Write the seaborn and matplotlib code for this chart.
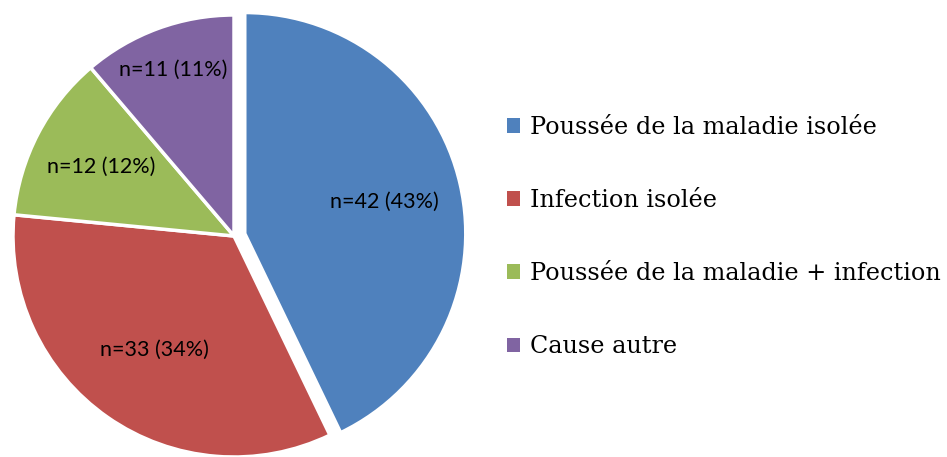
import matplotlib.pyplot as plt
import matplotlib.patches as mpatches
import seaborn as sns
import numpy as np

# data
categories = ["Poussée de la maladie isolée", "Infection isolée",
              "Poussée de la maladie + infection", "Cause autre"]
counts = [42, 33, 12, 11]
percents = [43, 34, 12, 11]
colors = ["#4F81BD", "#C0504D", "#9BBB59", "#8064A2"]
explode = [0.05, 0, 0, 0]
label_dist = [0.65, 0.63, 0.68, 0.80]

sns.set_theme(style="white")
plt.rcParams['font.family'] = ['Lato', 'DejaVu Sans']
plt.rcParams['text.color'] = 'black'

fig = plt.figure(figsize=(9.47, 4.57), dpi=100)
ax = fig.add_axes([13 / 947, 0, 442 / 947, 442 / 457])

wedges, _ = ax.pie(counts, colors=colors, explode=explode, startangle=90,
                   counterclock=False, radius=1,
                   wedgeprops=dict(edgecolor="white", linewidth=2.5))
ax.set_xlim(-1, 1)
ax.set_ylim(-1, 1)
ax.set_aspect("equal")
ax.axis("off")

# slice labels
for w, n, p, d, e in zip(wedges, counts, percents, label_dist, explode):
    ang = np.deg2rad((w.theta1 + w.theta2) / 2)
    x = (d + e) * np.cos(ang)
    y = (d + e) * np.sin(ang)
    ax.text(x, y, f"n={n} ({p}%)", ha="center", va="center",
            fontsize=15.5, color="black")

handles = [mpatches.Patch(facecolor=c, edgecolor="none") for c in colors]
fig.legend(handles, categories, loc="center left",
           bbox_to_anchor=(507 / 947, 1 - 237 / 457), frameon=False,
           prop=dict(family="DejaVu Serif", size=17.2),
           handlelength=0.56, handleheight=0.56, handletextpad=0.42,
           labelspacing=2.1, borderpad=0, borderaxespad=0)

fig.savefig("out.png", dpi=100)
